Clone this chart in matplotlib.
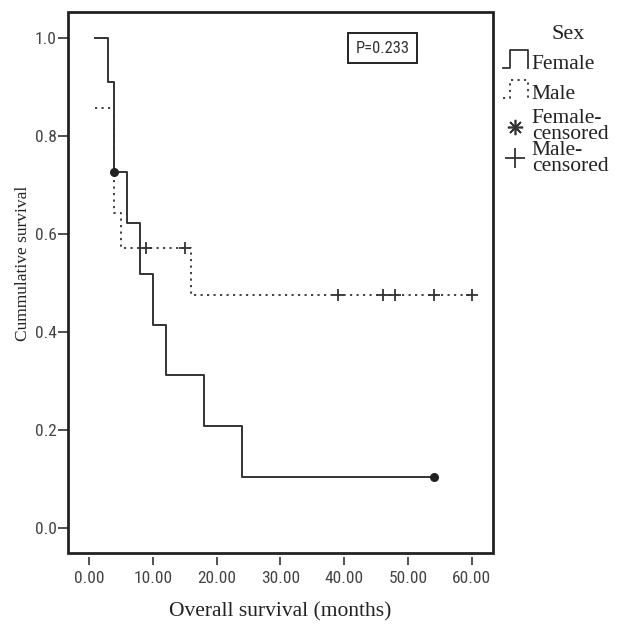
"""Kaplan-Meier overall survival by sex (female vs male), SPSS-style figure."""

import matplotlib
matplotlib.use("Agg")
import matplotlib.pyplot as plt
from matplotlib.legend_handler import HandlerBase
from matplotlib.lines import Line2D
from matplotlib.patches import Rectangle

# --- data ---
female_t = [1, 3, 4, 6, 8, 10, 12, 18, 24, 54]
female_s = [1.0, 0.909, 0.727, 0.623, 0.519, 0.415, 0.312, 0.208, 0.104, 0.104]
female_cens_t = [4, 54]
female_cens_s = [0.727, 0.104]

male_t = [1, 4, 5, 16, 60]
male_s = [0.857, 0.643, 0.571, 0.476, 0.476]
male_cens_t = [9, 15, 39, 46, 48, 54, 60]
male_cens_s = [0.571, 0.571, 0.476, 0.476, 0.476, 0.476, 0.476]

x_ticks = [0, 10, 20, 30, 40, 50, 60]
y_ticks = [0.0, 0.2, 0.4, 0.6, 0.8, 1.0]
p_text = "P=0.233"

LINE_C = "#333333"
NARROW = ["Roboto Condensed", "Liberation Sans"]
SERIF = ["Liberation Serif", "DejaVu Serif"]
DOTS = (0, (1.2, 2.4))


class HandlerStep(HandlerBase):
    """Legend key drawn as a little step pulse, like SPSS."""

    def __init__(self, ls="-", **kw):
        super().__init__(**kw)
        self.ls = ls

    def create_artists(self, legend, orig_handle, xdescent, ydescent,
                       width, height, fontsize, trans):
        x0, y0 = -xdescent, -ydescent
        xs = [x0, x0 + 0.3 * width, x0 + 0.3 * width, x0 + width, x0 + width]
        ys = [y0, y0, y0 + height * 1.3, y0 + height * 1.3, y0]
        ln = Line2D(xs, ys, color=LINE_C, lw=1.3, ls=self.ls)
        ln.set_transform(trans)
        return [ln]


fig = plt.figure(figsize=(6.17, 6.24), dpi=100)
ax = fig.add_axes([0.110, 0.114, 0.689, 0.867])

ax.plot(female_t, female_s, drawstyle="steps-post", color=LINE_C, lw=1.4)
ax.plot(male_t, male_s, drawstyle="steps-post", color=LINE_C, lw=1.3, ls=DOTS)
ax.plot(female_cens_t, female_cens_s, "o", color="#222222", ms=5.5)
ax.plot(male_cens_t, male_cens_s, "+", color=LINE_C, ms=9, mew=1.3)

ax.set_xlim(-3.3, 63.3)
ax.set_ylim(-0.051, 1.053)
ax.set_xticks(x_ticks)
ax.set_xticklabels([f"{v:.2f}" for v in x_ticks])
ax.set_yticks(y_ticks)
ax.set_yticklabels([f"{v:.1f}" for v in y_ticks])

# SPSS leaves a small gap between the frame and the x ticks
ax.spines["bottom"].set_position(("outward", 3))
for s in ax.spines.values():
    s.set_visible(False)
ax.add_patch(Rectangle((0, 0), 1, 1, transform=ax.transAxes, fill=False,
                       lw=2.0, ec="#222222", clip_on=False, zorder=5))

ax.tick_params(axis="both", direction="out", color="#333333", width=1.2,
               labelcolor="#444444")
ax.tick_params(axis="x", length=6, pad=4)
ax.tick_params(axis="y", length=7, pad=1)
for lab in ax.get_xticklabels() + ax.get_yticklabels():
    lab.set_family(NARROW)
    lab.set_fontsize(12.5)

ax.set_xlabel("Overall survival (months)", family=SERIF, fontsize=15.5,
              color="#222222", labelpad=12)
ax.set_ylabel("Cummulative survival", family=SERIF, fontsize=12.5,
              color="#222222")
ax.yaxis.set_label_coords(-0.086, 0.536)

ax.text(0.741, 0.933, p_text, transform=ax.transAxes, ha="center", va="center",
        family=NARROW, fontsize=12, color="#333333",
        bbox=dict(boxstyle="square,pad=0.45", fc="white", ec="#222222", lw=1.4))

# --- legend: title over the whole block, line keys, then censor marks ---
h_f = Line2D([], [], color=LINE_C)
h_m = Line2D([], [], color=LINE_C, ls=DOTS)
h_fc = Line2D([], [], ls="none", marker=(8, 2, 0), ms=11, mew=1.2, color="#333333")
h_mc = Line2D([], [], ls="none", marker="+", ms=14, mew=1.3, color="#333333")

fig.text(0.9206, 0.944, "Sex", ha="center", va="center", family=SERIF,
         fontsize=16, color="#222222")

common = dict(loc="upper left", frameon=False,
              prop=dict(family=SERIF, size=15.5),
              handlelength=1.15, handleheight=0.6, handletextpad=0.2,
              borderpad=0.2, borderaxespad=0.0)

leg1 = fig.legend(
    [h_f, h_m], ["Female", "Male"],
    bbox_to_anchor=(0.808, 0.920), labelspacing=0.5,
    handler_map={h_f: HandlerStep("-"), h_m: HandlerStep(DOTS)},
    **common,
)
leg2 = fig.legend(
    [h_fc, h_mc], ["Female-\ncensored", "Male-\ncensored"],
    bbox_to_anchor=(0.808, 0.832), labelspacing=-0.16, **common,
)
for leg in (leg1, leg2):
    for t in leg.get_texts():
        t.set_linespacing(0.8)
        t.set_color("#222222")

fig.savefig("out.png", dpi=100)
